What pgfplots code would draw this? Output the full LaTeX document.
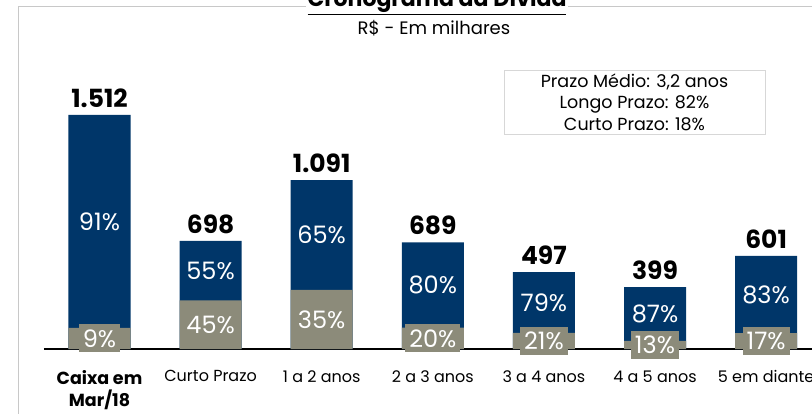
\documentclass[border=0pt]{standalone}
\usepackage{pgfplots}
\pgfplotsset{compat=1.18}
\usepackage{pgfplotstable}
\usepackage{fontspec}
\setmainfont{Poppins}
\definecolor{navy}{RGB}{0,54,105}
\definecolor{olive}{RGB}{140,139,122}
\definecolor{framegray}{RGB}{200,200,200}
\definecolor{boxgray}{RGB}{215,215,215}
\pgfplotstableread{
x total g
0 1512 9
1 698 45
2 1091 35
3 689 20
4 497 21
5 399 13
6 601 17
}\data
\begin{document}
\begin{tikzpicture}[x=1pt,y=1pt]
\useasboundingbox (0,0) rectangle (812,413);
\clip (0,0) rectangle (812,413);
\draw[color=framegray, line width=1pt] (18,-5) -- (18,406) -- (820,406);
\node[fill=white, font=\fontsize{22}{26}\selectfont\bfseries, anchor=base, inner sep=2pt] at (437,406) {\underline{Cronograma da Dívida}};
\node[font=\fontsize{18}{21}\selectfont, anchor=base] at (434,378) {R\$ - Em milhares};
\node[draw=boxgray, line width=0.8pt, minimum width=261pt, minimum height=64pt, align=center, font=\fontsize{17.5}{21.5}\selectfont] at (634.5,311) {Prazo Médio: 3,2 anos\\Longo Prazo: 82\%\\Curto Prazo: 18\%};
\begin{axis}[at={(43.95pt,64pt)}, anchor=south west, scale only axis,
  width=777.7pt, height=309.6pt,
  xmin=-0.5, xmax=6.5, ymin=0, ymax=2000,
  axis x line*=bottom, axis y line=none,
  x axis line style={-, black, line width=1.5pt},
  xtick={0,...,6},
  xticklabels={{\fontsize{17.5}{22}\selectfont\textbf{Caixa em}\\\fontsize{17.5}{22}\selectfont\textbf{Mar/18}}, Curto Prazo, 1 a 2 anos, 2 a 3 anos, 3 a 4 anos, 4 a 5 anos, 5 em diante},
  major tick length=0pt,
  xticklabel style={font=\fontsize{16}{22}\selectfont, align=center, yshift=-18pt},
  clip=false,
  /pgf/number format/assume math mode=true]
\addplot[ybar, bar width=62pt, bar shift=0pt, fill=navy, draw=none,
  nodes near coords={\pgfmathprintnumber[1000 sep={.}]{\pgfplotspointmeta}},
  point meta=y,
  every node near coord/.style={font=\fontsize{25}{28}\selectfont\bfseries, text=black, anchor=south, inner sep=7pt}]
  table[x=x, y=total] {\data};
\addplot[ybar, bar width=62pt, bar shift=0pt, fill=olive, draw=none]
  table[x=x, y expr=\thisrow{total}*\thisrow{g}/100] {\data};
\addplot[draw=none,
  nodes near coords={\pgfmathprintnumber{\pgfplotspointmeta}\%},
  point meta=\thisrow{g},
  nodes near coords align=center,
  every node near coord/.style={font=\fontsize{24}{26}\selectfont, text=white, fill=olive, anchor=center, inner xsep=4pt, inner ysep=0pt, minimum height=28pt}]
  table[x=x, y expr=\thisrow{total}*\thisrow{g}/200] {\data};
\addplot[draw=none,
  nodes near coords={\pgfmathprintnumber{\pgfplotspointmeta}\%},
  point meta=100-\thisrow{g},
  nodes near coords align=center,
  every node near coord/.style={font=\fontsize{24}{26}\selectfont, text=white, anchor=center}]
  table[x=x, y expr=\thisrow{total}*\thisrow{g}/100+\thisrow{total}*(100-\thisrow{g})/200] {\data};
\end{axis}
\end{tikzpicture}
\end{document}
